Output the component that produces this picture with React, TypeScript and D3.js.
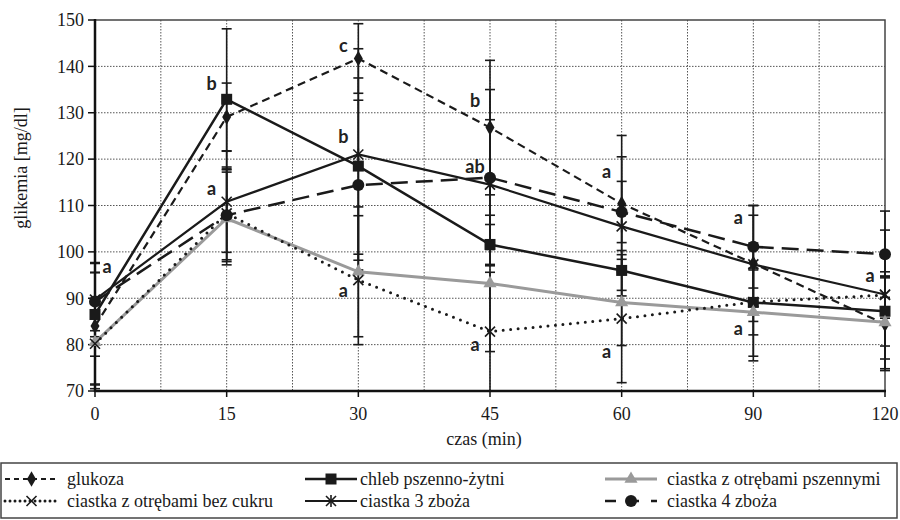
import React from "react";
import * as d3 from "d3";

const times = ["0", "15", "30", "45", "60", "90", "120"];
const yTicks = [70, 80, 90, 100, 110, 120, 130, 140, 150];

const glukoza = [84.0, 129.1, 141.7, 126.8, 110.4, 97.5, 84.4];
const glukozaSd = [13.5, 7.3, 7.5, 14.5, 14.7, 12.5, 10.0];
const chleb = [86.5, 132.9, 118.5, 101.6, 96.0, 89.1, 87.2];
const chlebSd = [9.0, 15.2, 19.0, 4.3, 4.3, 7.0, 7.5];
const pszenne = [80.5, 107.2, 95.7, 93.2, 89.1, 87.0, 84.8];
const pszenneSd = [9.0, 10.0, 14.0, 14.7, 9.3, 9.5, 10.0];
const bezCukru = [80.2, 108.3, 93.9, 82.8, 85.6, 89.2, 90.7];
const bezCukruSd = [8.9, 10.0, 13.9, 12.8, 13.8, 12.7, 5.0];
const zboza3 = [89.7, 110.8, 121.0, 114.5, 105.5, 97.3, 90.8];
const zboza3Sd = [8.0, 10.9, 22.8, 14.0, 15.0, 10.6, 13.9];
const zboza4 = [89.3, 107.9, 114.4, 116.0, 108.6, 101.1, 99.5];
const zboza4Sd = [6.3, 10.0, 18.3, 19.0, 6.6, 8.9, 9.3];

const labelText = ["a", "b", "a", "c", "b", "a", "b", "ab", "a", "a", "a", "a", "a", "a"];
const labelTime = ["0", "15", "15", "30", "30", "30", "45", "45", "45", "60", "60", "90", "90", "120"];
const labelValue = [96.8, 136.3, 113.6, 144.4, 124.8, 91.7, 132.5, 118.3, 79.9, 117.2, 78.5, 107.4, 83.5, 94.8];

const seriesNames = [
  "glukoza",
  "chleb pszenno-żytni",
  "ciastka z otrębami pszennymi",
  "ciastka z otrębami bez cukru",
  "ciastka 3 zboża",
  "ciastka 4 zboża",
];

type Style = { color: string; width: number; dash: string; cap: string; marker: string };

const styles: Style[] = [
  { color: "#1a1a1a", width: 2.2, dash: "8 5", cap: "butt", marker: "diamond" },
  { color: "#1a1a1a", width: 2.5, dash: "", cap: "butt", marker: "square" },
  { color: "#9a9a9a", width: 3, dash: "", cap: "butt", marker: "triangle" },
  { color: "#1a1a1a", width: 3, dash: "0 7.5", cap: "round", marker: "x" },
  { color: "#1a1a1a", width: 2.2, dash: "", cap: "butt", marker: "star" },
  { color: "#1a1a1a", width: 2.5, dash: "17 8", cap: "butt", marker: "circle" },
];

const values = [glukoza, chleb, pszenne, bezCukru, zboza3, zboza4];
const sds = [glukozaSd, chlebSd, pszenneSd, bezCukruSd, zboza3Sd, zboza4Sd];

const W = 900;
const H = 520;
const M = { left: 95, right: 885, top: 20, bottom: 391 };

const SERIF = "Liberation Serif";
const SANS_BOLD = "Lato";

function Marker({ type, x, y, color }: { type: string; x: number; y: number; color: string }) {
  if (type === "diamond") {
    return <path d={d3.symbol(d3.symbolDiamond, 70)() as string} transform={`translate(${x},${y})`} fill={color} />;
  }
  if (type === "square") {
    return <rect x={x - 5.5} y={y - 5.5} width={11} height={11} fill={color} />;
  }
  if (type === "triangle") {
    return <path d={d3.symbol(d3.symbolTriangle, 75)() as string} transform={`translate(${x},${y})`} fill={color} />;
  }
  if (type === "circle") {
    return <circle cx={x} cy={y} r={6} fill={color} />;
  }
  const s = 5;
  return (
    <g stroke={color} strokeWidth={1.6}>
      <line x1={x - s} y1={y - s} x2={x + s} y2={y + s} />
      <line x1={x - s} y1={y + s} x2={x + s} y2={y - s} />
      {type === "star" && <line x1={x} y1={y - s - 1} x2={x} y2={y + s + 1} />}
    </g>
  );
}

export default function App() {
  const x = d3.scalePoint<string>().domain(times).range([M.left, M.right]).padding(0);
  const y = d3.scaleLinear().domain([70, 150]).range([M.bottom, M.top]);
  const step = x.step();
  const vGrid = d3.range(1, (times.length - 1) * 2).map((i) => M.left + (i * step) / 2);

  const line = d3
    .line<number>()
    .x((_, i) => x(times[i]) as number)
    .y((d) => y(d));

  const serifStyle = { fontFamily: SERIF, fontSize: "18px" };

  const legendCols = [
    { x0: 5, x1: 58, tx: 67 },
    { x0: 305, x1: 357, tx: 360 },
    { x0: 605, x1: 657, tx: 667 },
  ];
  const legendRows = [479, 501];

  return (
    <div style={{ position: "absolute", left: 0, top: 0 }}>
      <svg width={W} height={H} style={{ display: "block", background: "#fff" }}>
        {/* grid */}
        {yTicks.slice(1, -1).map((t) => (
          <line key={"h" + t} x1={M.left} x2={M.right} y1={y(t)} y2={y(t)} stroke="#555" strokeWidth={1} strokeDasharray="1.5 1.5" />
        ))}
        {vGrid.map((gx, i) => (
          <line key={"v" + i} x1={gx} x2={gx} y1={M.top} y2={M.bottom} stroke="#555" strokeWidth={1} strokeDasharray="1.5 1.5" />
        ))}
        {/* plot border */}
        <rect x={M.left} y={M.top} width={M.right - M.left} height={M.bottom - M.top} fill="none" stroke="#444" strokeWidth={1.5} />

        {/* error bars */}
        {values.map((vals, si) =>
          vals.map((v, i) => {
            const cx = x(times[i]) as number;
            const lo = Math.max(70, v - sds[si][i]);
            const hi = Math.min(150, v + sds[si][i]);
            return (
              <g key={`e${si}-${i}`} stroke="#1a1a1a" strokeWidth={1.6}>
                <line x1={cx} x2={cx} y1={y(lo)} y2={y(hi)} />
                <line x1={cx - 5} x2={cx + 5} y1={y(lo)} y2={y(lo)} />
                <line x1={cx - 5} x2={cx + 5} y1={y(hi)} y2={y(hi)} />
              </g>
            );
          })
        )}

        {/* axes */}
        <line x1={M.left} x2={M.left} y1={M.top - 1} y2={M.bottom + 1} stroke="#111" strokeWidth={2.5} />
        <line x1={M.left - 1} x2={M.right + 1} y1={M.bottom} y2={M.bottom} stroke="#111" strokeWidth={2.5} />
        {yTicks.map((t) => (
          <g key={"yt" + t}>
            <line x1={M.left - 7} x2={M.left} y1={y(t)} y2={y(t)} stroke="#111" strokeWidth={1.5} />
            <text x={M.left - 11} y={y(t)} dy="0.35em" textAnchor="end" style={serifStyle} fill="#1a1a1a">
              {t}
            </text>
          </g>
        ))}
        {times.map((t) => (
          <g key={"xt" + t}>
            <line x1={x(t)} x2={x(t)} y1={M.bottom} y2={M.bottom + 6} stroke="#111" strokeWidth={1.5} />
            <text x={x(t)} y={420} textAnchor="middle" style={serifStyle} fill="#1a1a1a">
              {t}
            </text>
          </g>
        ))}
        <text x={484} y={445} textAnchor="middle" style={serifStyle} fill="#1a1a1a">
          czas (min)
        </text>
        <text transform={`translate(27,168) rotate(-90)`} textAnchor="middle" style={serifStyle} fill="#1a1a1a">
          glikemia [mg/dl]
        </text>

        {/* lines */}
        {values.map((vals, si) => (
          <path
            key={"l" + si}
            d={line(vals) as string}
            fill="none"
            stroke={styles[si].color}
            strokeWidth={styles[si].width}
            strokeDasharray={styles[si].dash}
            strokeLinecap={styles[si].cap as any}
          />
        ))}
        {/* markers */}
        {values.map((vals, si) =>
          vals.map((v, i) => (
            <Marker key={`m${si}-${i}`} type={styles[si].marker} x={x(times[i]) as number} y={y(v)} color={styles[si].color} />
          ))
        )}

        {/* significance labels */}
        {labelText.map((t, i) => (
          <text
            key={"lab" + i}
            x={(x(labelTime[i]) as number) + (labelTime[i] === "0" ? 12 : -15)}
            y={y(labelValue[i])}
            dy="0.35em"
            textAnchor="middle"
            style={{ fontFamily: SANS_BOLD, fontWeight: 700, fontSize: "18px" }}
            fill="#222"
          >
            {t}
          </text>
        ))}

        {/* legend */}
        <rect x={1} y={463} width={896} height={55} fill="#fff" stroke="#444" strokeWidth={1.5} />
        {seriesNames.map((name, si) => {
          const col = legendCols[si % 3];
          const ry = legendRows[Math.floor(si / 3)];
          const st = styles[si];
          const legendDash = si === 0 ? "5 4" : si === 3 ? "0 5" : si === 5 ? "11 12" : "";
          return (
            <g key={"lg" + si}>
              <line
                x1={col.x0}
                x2={col.x1}
                y1={ry}
                y2={ry}
                stroke={st.color}
                strokeWidth={st.width}
                strokeDasharray={legendDash}
                strokeLinecap={st.cap as any}
              />
              <Marker type={st.marker} x={(col.x0 + col.x1) / 2} y={ry} color={st.color} />
              <text x={col.tx} y={ry} dy="0.35em" style={serifStyle} fill="#1a1a1a">
                {name}
              </text>
            </g>
          );
        })}
      </svg>
    </div>
  );
}
